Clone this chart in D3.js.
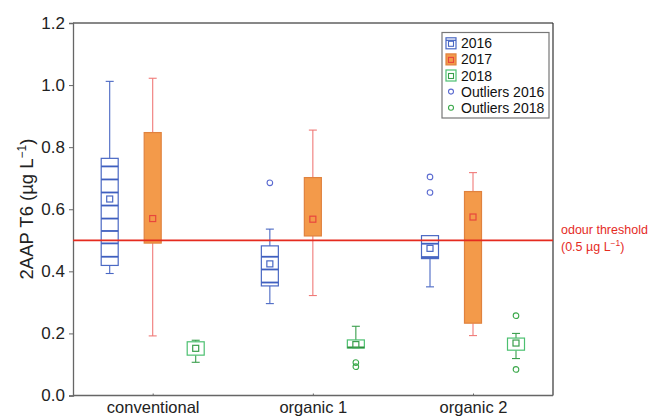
<!DOCTYPE html>
<html>
<head>
<meta charset="utf-8">
<script src="https://cdn.jsdelivr.net/npm/d3@7"></script>
<style>
  body { margin: 0; background: #fff; }
  text { font-family: "Liberation Sans", Arial, sans-serif; }
</style>
</head>
<body>
<div id="chart"></div>
<script>
let w = 651;
let h = 416;

// data
let categories = ["conventional", "organic 1", "organic 2"];
let years = ["2016", "2017", "2018"];
let yTicks = [0, 0.2, 0.4, 0.6, 0.8, 1.0, 1.2];
let threshold = 0.5;

// per year, one value per category
let q1_2016 = [0.419, 0.353, 0.441];
let q3_2016 = [0.764, 0.482, 0.515];
let lo_2016 = [0.393, 0.296, 0.350];
let hi_2016 = [1.012, 0.536, 0.515];
let mean_2016 = [0.633, 0.424, 0.474];
let lines_2016 = [
    [0.738, 0.696, 0.654, 0.612, 0.570, 0.530, 0.490, 0.447],
    [0.447, 0.406, 0.364],
    [0.489, 0.446]
];
let out_2016 = [[], [0.685], [0.704, 0.654]];

let q1_2017 = [0.491, 0.514, 0.233];
let q3_2017 = [0.847, 0.702, 0.657];
let lo_2017 = [0.192, 0.322, 0.193];
let hi_2017 = [1.022, 0.855, 0.718];
let mean_2017 = [0.570, 0.568, 0.575];

let q1_2018 = [0.130, 0.153, 0.146];
let q3_2018 = [0.173, 0.179, 0.185];
let lo_2018 = [0.107, 0.153, 0.119];
let hi_2018 = [0.178, 0.223, 0.200];
let mean_2018 = [0.152, 0.164, 0.169];
let lines_2018 = [[], [0.155], []];
let out_2018 = [[], [0.106, 0.093], [0.257, 0.084]];

let boxes = [];
categories.forEach(function(c, i){
    boxes.push({cat: c, year: "2016", q1: q1_2016[i], q3: q3_2016[i], lo: lo_2016[i], hi: hi_2016[i], mean: mean_2016[i], lines: lines_2016[i], out: out_2016[i]});
    boxes.push({cat: c, year: "2017", q1: q1_2017[i], q3: q3_2017[i], lo: lo_2017[i], hi: hi_2017[i], mean: mean_2017[i], lines: [], out: []});
    boxes.push({cat: c, year: "2018", q1: q1_2018[i], q3: q3_2018[i], lo: lo_2018[i], hi: hi_2018[i], mean: mean_2018[i], lines: lines_2018[i], out: out_2018[i]});
});

let style = {
    "2016": {stroke: "#4a68c4", fill: "none", whisker: "#4a68c4", mean: "#4a68c4", line: "#3f5fbf"},
    "2017": {stroke: "#e0823e", fill: "#f39a4a", whisker: "#f07a78", mean: "#e8463c", line: "#e0823e"},
    "2018": {stroke: "#4cc070", fill: "none", whisker: "#3a9e4c", mean: "#3a9e4c", line: "#2f8f3e"}
};
let outColor = {"2016": "#5a6ad0", "2018": "#3aa84a"};

let mLeft = 73, mRight = 553, mTop = 23, mBottom = 395.5;

let x = d3.scalePoint().domain(categories).range([152.7, 473]);
let dx = d3.scalePoint().domain(years).range([-43, 43]);
let y = d3.scaleLinear().domain([0, 1.2]).range([mBottom, mTop]);
let boxW = 17, capW = 8;

let svg = d3.select("#chart").append("svg")
    .attr("width", w)
    .attr("height", h);

// frame: top and right in black
svg.append("line").attr("x1", mLeft).attr("x2", mRight).attr("y1", mTop).attr("y2", mTop)
    .attr("stroke", "#111").attr("stroke-width", 1);
svg.append("line").attr("x1", mRight).attr("x2", mRight).attr("y1", mTop).attr("y2", mBottom)
    .attr("stroke", "#333").attr("stroke-width", 1.2);

// y axis
let yAxis = d3.axisLeft(y).tickValues(yTicks).tickFormat(d3.format(".1f")).tickSize(4).tickPadding(4);
let gy = svg.append("g").attr("transform", "translate(" + mLeft + ",0)").call(yAxis);
gy.select(".domain").attr("stroke", "#666").attr("stroke-width", 1.3);
gy.selectAll(".tick line").attr("stroke", "#666");
gy.selectAll("text").attr("font-size", 17).attr("fill", "#222")
    .attr("font-family", "Liberation Sans, Arial, sans-serif");

// x axis
let xAxis = d3.axisBottom(x).tickSizeInner(-2).tickSizeOuter(0).tickPadding(6);
let gx = svg.append("g").attr("transform", "translate(0," + mBottom + ")").call(xAxis);
gx.select(".domain").attr("stroke", "#666").attr("stroke-width", 1.3)
    .attr("d", "M" + mLeft + ",0H" + mRight);
gx.selectAll(".tick line").attr("stroke", "#666");
gx.selectAll("text").attr("font-size", 16.5).attr("fill", "#222")
    .attr("font-family", "Liberation Sans, Arial, sans-serif");

// y label
svg.append("text")
    .attr("transform", "translate(33,209) rotate(-90)")
    .attr("text-anchor", "middle")
    .attr("font-size", 18.5)
    .attr("fill", "#222")
    .html('2AAP T6 (µg L<tspan dy="-7" font-size="12">−1</tspan><tspan dy="7">)</tspan>');

// boxes
let g = svg.selectAll(".box").data(boxes).enter().append("g")
    .attr("class", "box")
    .attr("transform", d => "translate(" + (x(d.cat) + dx(d.year)) + ",0)");

g.append("line")
    .attr("y1", d => y(d.q3)).attr("y2", d => y(d.hi))
    .attr("stroke", d => style[d.year].whisker).attr("stroke-width", 1.1);
g.append("line")
    .attr("y1", d => y(d.q1)).attr("y2", d => y(d.lo))
    .attr("stroke", d => style[d.year].whisker).attr("stroke-width", 1.1);
g.filter(d => d.hi > d.q3).append("line")
    .attr("x1", -capW / 2).attr("x2", capW / 2)
    .attr("y1", d => y(d.hi)).attr("y2", d => y(d.hi))
    .attr("stroke", d => style[d.year].whisker).attr("stroke-width", 1.1);
g.filter(d => d.lo < d.q1).append("line")
    .attr("x1", -capW / 2).attr("x2", capW / 2)
    .attr("y1", d => y(d.lo)).attr("y2", d => y(d.lo))
    .attr("stroke", d => style[d.year].whisker).attr("stroke-width", 1.1);

g.append("rect")
    .attr("x", -boxW / 2).attr("width", boxW)
    .attr("y", d => y(d.q3)).attr("height", d => y(d.q1) - y(d.q3))
    .attr("fill", d => style[d.year].fill === "none" ? "#fff" : style[d.year].fill)
    .attr("stroke", d => style[d.year].stroke).attr("stroke-width", 1.2);

g.selectAll(".inner").data(d => d.lines.map(v => ({v: v, year: d.year}))).enter()
    .append("line")
    .attr("x1", -boxW / 2).attr("x2", boxW / 2)
    .attr("y1", d => y(d.v)).attr("y2", d => y(d.v))
    .attr("stroke", d => style[d.year].line).attr("stroke-width", 1.8);

g.append("rect")
    .attr("x", -3).attr("width", 6)
    .attr("y", d => y(d.mean) - 3).attr("height", 6)
    .attr("fill", "none")
    .attr("stroke", d => style[d.year].mean).attr("stroke-width", 1.2);

g.selectAll(".out").data(d => d.out.map(v => ({v: v, year: d.year}))).enter()
    .append("circle")
    .attr("cy", d => y(d.v)).attr("r", 2.8)
    .attr("fill", "none")
    .attr("stroke", d => outColor[d.year]).attr("stroke-width", 1.1);

// odour threshold
svg.append("line")
    .attr("x1", mLeft).attr("x2", mRight)
    .attr("y1", y(threshold)).attr("y2", y(threshold))
    .attr("stroke", "#e52b1f").attr("stroke-width", 1.8);
svg.append("text").attr("x", 561).attr("y", 233.5)
    .attr("font-size", 12.5).attr("fill", "#e52b1f").text("odour threshold");
svg.append("text").attr("x", 561).attr("y", 250.5)
    .attr("font-size", 12.5).attr("fill", "#e52b1f")
    .html('(' + threshold + ' µg L<tspan dy="-5" font-size="8.5">−1</tspan><tspan dy="5">)</tspan>');

// legend
let legend = svg.append("g");
legend.append("rect").attr("x", 442).attr("y", 32.5).attr("width", 107).attr("height", 85.5)
    .attr("fill", "#fff").attr("stroke", "#777").attr("stroke-width", 1.2);
let legendItems = ["2016", "2017", "2018", "Outliers 2016", "Outliers 2018"];
let ly = d3.scalePoint().domain(legendItems).range([43.3, 107.7]);
let lx = 451;
legendItems.forEach(function(item, i){
    let yy = ly(item);
    if (i < 3) {
        let s = style[item];
        legend.append("rect").attr("x", lx - 5).attr("y", yy - 5.5).attr("width", 10).attr("height", 11)
            .attr("fill", s.fill === "none" ? "#fff" : s.fill)
            .attr("stroke", s.stroke).attr("stroke-width", 1.2);
        if (item === "2016") {
            legend.append("line").attr("x1", lx - 5).attr("x2", lx + 5).attr("y1", yy - 3).attr("y2", yy - 3)
                .attr("stroke", s.line).attr("stroke-width", 1.2);
        }
        legend.append("rect").attr("x", lx - 2.5).attr("y", yy - 2).attr("width", 5).attr("height", 5)
            .attr("fill", "none").attr("stroke", s.mean).attr("stroke-width", 1.1);
    } else {
        legend.append("circle").attr("cx", lx).attr("cy", yy).attr("r", 2.5)
            .attr("fill", "none").attr("stroke", outColor[item.slice(-4)]).attr("stroke-width", 1.1);
    }
    legend.append("text").attr("x", 461).attr("y", yy + 5)
        .attr("font-size", 14).attr("fill", "#111").text(item);
});
</script>
</body>
</html>
